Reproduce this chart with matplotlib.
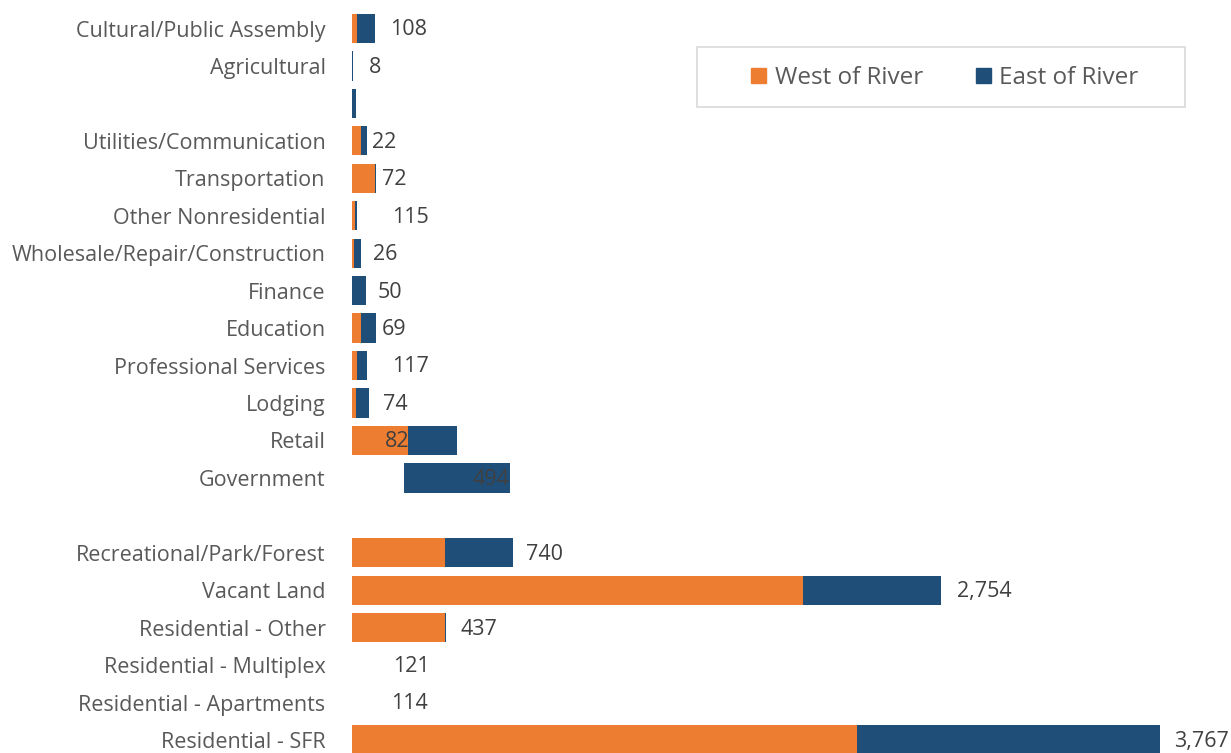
import matplotlib
matplotlib.use("Agg")
import matplotlib.pyplot as plt
from matplotlib.patches import Patch, Rectangle

categories = ["Cultural/Public Assembly", "Agricultural", "", "Utilities/Communication",
              "Transportation", "Other Nonresidential", "Wholesale/Repair/Construction",
              "Finance", "Education", "Professional Services", "Lodging", "Retail",
              "Government", "", "Recreational/Park/Forest", "Vacant Land",
              "Residential - Other", "Residential - Multiplex", "Residential - Apartments",
              "Residential - SFR"]
west = [23, 0, 0, 42, 107, 14, 7, 2, 42, 23, 19, 261, 0, 0, 434, 2105, 434, 0, 0, 2357]
east = [84, 6, 18, 28, 4, 9, 37, 63, 70, 47, 61, 229, 495, 0, 317, 644, 4, 0, 0, 1414]
east_start = [None] * 12 + [243] + [None] * 7
totals = [108, 8, None, 22, 72, 115, 26, 50, 69, 117, 74, 82, 494, None, 740, 2754, 437, 121, 114, 3767]

ORANGE = "#ED7D31"
BLUE = "#1F4E79"

plt.rcParams['font.family'] = ['Open Sans', 'DejaVu Sans']

W, H = 1231, 753
fig = plt.figure(figsize=(W / 100, H / 100), dpi=100)
ax = fig.add_axes([352 / W, 0, 1 - 352 / W, 1])

ypos = list(range(len(categories)))
h = 0.78
ax.barh(ypos, west, height=h, color=ORANGE, linewidth=0)
lefts = [west[i] if east_start[i] is None else east_start[i] for i in ypos]
ax.barh(ypos, east, left=lefts, height=h, color=BLUE, linewidth=0)

for i, t in enumerate(totals):
    if t is None:
        continue
    ax.annotate(f"{t:,}", xy=(t, i), xytext=(10.8, -1), textcoords="offset points",
                ha="left", va="center", fontsize=15.5, color="#404040",
                annotation_clip=False)

row_px = 37.45
top_px = 28.5
ax.set_xlim(0, 879 / 0.2143)
ax.set_ylim((H - top_px) / row_px, -top_px / row_px)
ax.set_yticks(ypos)
ax.set_yticklabels(categories, fontsize=15.5, color="#595959")
ax.tick_params(axis="y", length=0, pad=19)
ax.set_xticks([])
for s in ax.spines.values():
    s.set_visible(False)

# legend frame
fig.patches.append(Rectangle((697 / W, 1 - 107 / H), (1185 - 697) / W, 60 / H,
                             transform=fig.transFigure, facecolor="white",
                             edgecolor="#d9d9d9", linewidth=1.2, zorder=1))
handles = [Patch(color=ORANGE, label="West of River"), Patch(color=BLUE, label="East of River")]
leg = fig.legend(handles=handles, loc="center", bbox_to_anchor=(945 / W, 1 - 78 / H),
                 ncol=2, fontsize=17.5, frameon=False,
                 handlelength=0.62, handleheight=0.62, handletextpad=0.33, columnspacing=2.2,
                 borderpad=0.0, labelcolor="#595959")
leg.set_zorder(2)

fig.savefig("out.png", dpi=100)
